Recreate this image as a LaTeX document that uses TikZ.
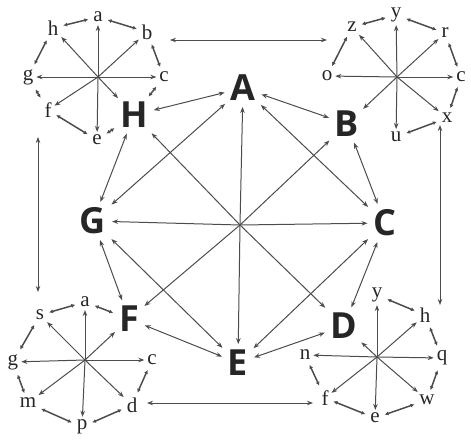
\documentclass[tikz,border=0pt]{standalone}
\usepackage{fontspec}
\newfontfamily\bigf{Open Sans}
\newfontfamily\smf{Liberation Serif}
\usetikzlibrary{arrows.meta}
\begin{document}
\begin{tikzpicture}[x=1pt,y=-1pt,
 big/.style={font=\bigf\bfseries\fontsize{36}{36}\selectfont, inner sep=1pt, outer sep=3pt, text=black!85},
 sm/.style={font=\smf\fontsize{21}{21}\selectfont, inner sep=0.5pt, outer sep=2.5pt, text=black!85},
 arr/.style={-{Stealth[length=6pt,width=4.5pt]}, line width=1pt, draw=black!70},
 dbl/.style={{Stealth[length=6pt,width=4.5pt]}-{Stealth[length=6pt,width=4.5pt]}, line width=1pt, draw=black!70, shorten <=2pt, shorten >=2pt},
 ring/.style={{Latex[length=4pt,width=4pt]}-{Latex[length=4pt,width=4pt]}, line width=1.5pt, draw=black!70, shorten <=2pt, shorten >=2pt},
]
\useasboundingbox (0,0) rectangle (471,439);
% big letters
\node[big] (A) at (243,88) {A};
\node[big] (B) at (347,124) {B};
\node[big] (C) at (385,223) {C};
\node[big] (D) at (344,326) {D};
\node[big] (E) at (238,363) {E};
\node[big] (F) at (129,319) {F};
\node[big] (G) at (93,221) {G};
\node[big] (H) at (134,115) {H};
\coordinate (O) at (240,225);
\foreach \n in {A,B,C,D,E,F,G,H} \draw[arr, shorten >=2pt] (O) -- (\n);
\foreach \p/\q in {A/G,A/C,G/E,C/E,A/H,A/B,B/C,C/D,D/E,E/F,F/G,G/H} \draw[dbl] (\p) -- (\q);
% star top-left
\coordinate (O1) at (98,77);
\node[sm] (a1) at (98,17) {a};
\node[sm] (b1) at (147,32) {b};
\node[sm] (c1) at (164,77) {c};
\node[sm] (e1) at (97,140) {e};
\node[sm] (f1) at (48,110) {f};
\node[sm] (g1) at (28,77) {g};
\node[sm] (h1) at (53,28) {h};
\foreach \n in {a1,b1,c1,e1,f1,g1,h1,H} \draw[arr] (O1) -- (\n);
\foreach \p/\q in {h1/a1,a1/b1,b1/c1,c1/H,H/e1,e1/f1,f1/g1,g1/h1} \draw[ring] (\p) -- (\q);
% star top-right
\coordinate (O2) at (397,77);
\node[sm] (y2) at (396,15) {y};
\node[sm] (r2) at (445,33) {r};
\node[sm] (c2) at (461,77) {c};
\node[sm] (x2) at (447,118) {x};
\node[sm] (u2) at (396,137) {u};
\node[sm] (o2) at (327,76) {o};
\node[sm] (z2) at (352,27) {z};
\foreach \n in {y2,r2,c2,x2,u2,o2,z2,B} \draw[arr] (O2) -- (\n);
\foreach \p/\q in {z2/y2,y2/r2,r2/c2,c2/x2,x2/u2,o2/z2} \draw[ring] (\p) -- (\q);
% star bottom-left
\coordinate (O3) at (85,360);
\node[sm] (a3) at (85,302) {a};
\node[sm] (s3) at (40,315) {s};
\node[sm] (g3) at (13,362) {g};
\node[sm] (m3) at (28,403) {m};
\node[sm] (p3) at (82,427) {p};
\node[sm] (d3) at (132,405) {d};
\node[sm] (c3) at (152,360) {c};
\foreach \n in {a3,s3,g3,m3,p3,d3,c3,F} \draw[arr] (O3) -- (\n);
\foreach \p/\q in {s3/a3,a3/F,s3/g3,g3/m3,m3/p3,p3/d3,d3/c3} \draw[ring] (\p) -- (\q);
% star bottom-right
\coordinate (O4) at (377,357);
\node[sm] (y4) at (377,295) {y};
\node[sm] (h4) at (425,315) {h};
\node[sm] (q4) at (442,358) {q};
\node[sm] (w4) at (427,400) {w};
\node[sm] (e4) at (375,418) {e};
\node[sm] (f4) at (325,398) {f};
\node[sm] (n4) at (305,355) {n};
\foreach \n in {y4,h4,q4,w4,e4,f4,n4,D} \draw[arr] (O4) -- (\n);
\foreach \p/\q in {y4/h4,h4/q4,q4/w4,w4/e4,e4/f4,f4/n4} \draw[ring] (\p) -- (\q);
% outer links
\coordinate (t1) at (170,40); \coordinate (t2) at (327,40);
\coordinate (l1) at (38,137); \coordinate (l2) at (38,292);
\coordinate (r1) at (440,125); \coordinate (r2) at (440,305);
\coordinate (u1) at (147,403); \coordinate (u2) at (313,403);
\draw[dbl, shorten <=0pt, shorten >=0pt] (t1) -- (t2);
\draw[dbl, shorten <=0pt, shorten >=0pt] (l1) -- (l2);
\draw[dbl, shorten <=0pt, shorten >=0pt] (r1) -- (r2);
\draw[dbl, shorten <=0pt, shorten >=0pt] (u1) -- (u2);
\end{tikzpicture}
\end{document}
